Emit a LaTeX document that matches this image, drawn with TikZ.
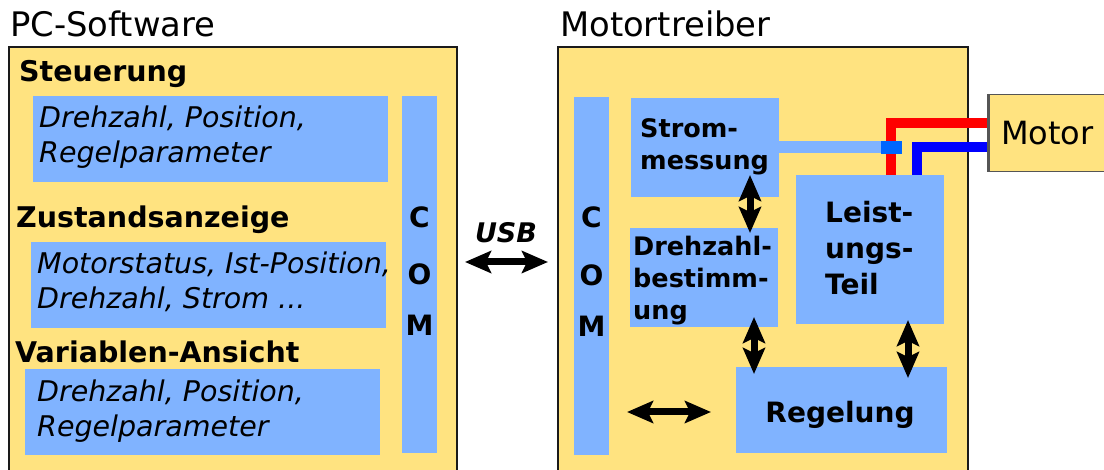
\documentclass[tikz,border=0pt]{standalone}
\usepackage{fontspec}
\setmainfont{DejaVu Sans}
\usetikzlibrary{arrows.meta,calc}

\definecolor{panel}{HTML}{FFE380}
\definecolor{block}{HTML}{80B3FF}
\definecolor{sensorblue}{HTML}{0066FF}
\definecolor{frame}{HTML}{1A1A1A}
\definecolor{motorframe}{HTML}{555555}

% stacked lines, first baseline is the box baseline
\newcommand\stackleft[1]{\vtop{\halign{##\hfil\cr#1\crcr}}}
\newcommand\stackmid[1]{\vtop{\halign{\hfil##\hfil\cr#1\crcr}}}

\tikzset{
  panelbox/.style 2 args={draw=frame, line width=2.3pt, fill=panel,
    anchor=north west, inner sep=0pt, outer sep=0pt,
    minimum width=#1, minimum height=#2},
  blk/.style 2 args={fill=block, anchor=north west, inner sep=0pt,
    outer sep=0pt, minimum width=#1, minimum height=#2},
  title/.style={font=\fontsize{33.8}{40}\selectfont, anchor=base west, inner sep=0pt},
  head/.style={font=\bfseries\fontsize{28.5}{35}\selectfont, anchor=base west, inner sep=0pt},
  item/.style={font=\itshape\fontsize{28.5}{35}\selectfont, anchor=base west, inner sep=0pt},
  lbl/.style={font=\bfseries\fontsize{25.5}{32}\selectfont, anchor=base west, inner sep=0pt},
  biglbl/.style={font=\bfseries\fontsize{28}{36}\selectfont, anchor=base west, inner sep=0pt},
  comlbl/.style={font=\bfseries\fontsize{28}{51}\selectfont, anchor=base, inner sep=0pt},
  dbl/.style={line width=7pt, >={Stealth[length=26pt,width=22pt,inset=5pt]}, <->},
  wire/.style={line width=10pt, line join=miter, line cap=butt},
}

\begin{document}
\begin{tikzpicture}[x=1pt, y=-1pt]
\clip (0,0) rectangle (1104,470);

% two main panels
\node[panelbox={448pt}{440pt}] (pc) at (9,47) {};
\node[panelbox={410pt}{440pt}] (mt) at (558,47) {};
\node[title] (pctitle) at (10,37) {PC-Software};
\node[title] (mttitle) at (560,37) {Motortreiber};

% PC software contents
\node[head] (steu) at (19,82) {Steuerung};
\node[blk={355pt}{86pt}] (s1) at (33,96) {};
\node[item] (s1txt) at (39,128) {\stackleft{Drehzahl, Position,\cr Regelparameter}};

\node[head] (zust) at (16,228) {Zustandsanzeige};
\node[blk={355pt}{86pt}] (s2) at (31,242) {};
\node[item] (s2txt) at (37,274) {\stackleft{Motorstatus, Ist-Position,\cr Drehzahl, Strom ...}};

\node[head] (vari) at (15,363) {Variablen-Ansicht};
\node[blk={355pt}{86pt}] (s3) at (25,369) {};
\node[item] (s3txt) at (37,402) {\stackleft{Drehzahl, Position,\cr Regelparameter}};

\node[blk={35pt}{357pt}] (comL) at (402,96) {};
\node[comlbl] (comLtxt) at (419.5,228) {\stackmid{C\cr\noalign{\kern6pt}O\cr M}};

% USB link
\node[font=\bfseries\itshape\fontsize{27}{30}\selectfont, anchor=base, inner sep=0pt] (usb) at (506,243) {USB};
\coordinate (usbline) at (506,262);
\draw[dbl] ($(pc.east |- usbline)+(8,0)$) -- ($(mt.west |- usbline)+(-10,0)$);

% motor driver contents
\node[blk={35pt}{358pt}] (comR) at (574,97) {};
\node[comlbl] (comRtxt) at (591.5,228) {\stackmid{C\cr\noalign{\kern7pt}O\cr M}};

\node[blk={148pt}{99pt}] (strom) at (631,98) {};
\node[lbl] (stromtxt) at (640,138) {\stackleft{Strom-\cr messung}};

\node[blk={148pt}{99pt}] (dreh) at (630,228) {};
\node[lbl] (drehtxt) at (633,256) {\stackleft{Drehzahl-\cr bestimm-\cr ung}};

\node[blk={148pt}{149pt}] (leist) at (796,175) {};
\node[biglbl] (leisttxt) at (825,223) {\stackleft{Leist-\cr ungs-\cr Teil}};

\node[blk={211pt}{86pt}] (regel) at (736,367) {};
\node[biglbl, anchor=base] (regeltxt) at (840,423) {Regelung};

% current tap and motor leads
\coordinate (tapend) at (902,147.5);
\draw[block, line width=12pt] (strom.east) -- (strom.east -| tapend);
\coordinate (redbend) at (891,123.5);
\coordinate (bluebend) at (916.5,147);
\node[draw=motorframe, line width=1.5pt, fill=panel, anchor=north west,
      minimum width=117pt, minimum height=77pt, inner sep=0pt,
      font=\fontsize{32}{38}\selectfont] (motor) at (988,94) {Motor};
\draw[wire, red] (leist.north -| redbend) -- (redbend) -- (motor.west |- redbend);
\draw[wire, blue] (leist.north -| bluebend) -- (bluebend) -- (motor.west |- bluebend);
\node[fill=sensorblue, minimum width=21pt, minimum height=13pt, inner sep=0pt] (sensor) at (891.5,147.5) {};
\draw[motorframe, line width=1.5pt] (motor.north west) -- (motor.south west);

% data flow inside the driver
\draw[dbl] ($(strom.south)+(45,-22)$) -- ($(dreh.north)+(46,5)$);
\draw[dbl] ($(dreh.south)+(50,-10)$) -- ($(regel.north)+(-87.5,7)$);
\draw[dbl] ($(leist.south)+(38,-4)$) -- ($(regel.north)+(66.5,11)$);
\draw[dbl] ($(comR.east |- regel.west)+(18,2)$) -- ($(regel.west)+(-25,2)$);
\end{tikzpicture}
\end{document}
